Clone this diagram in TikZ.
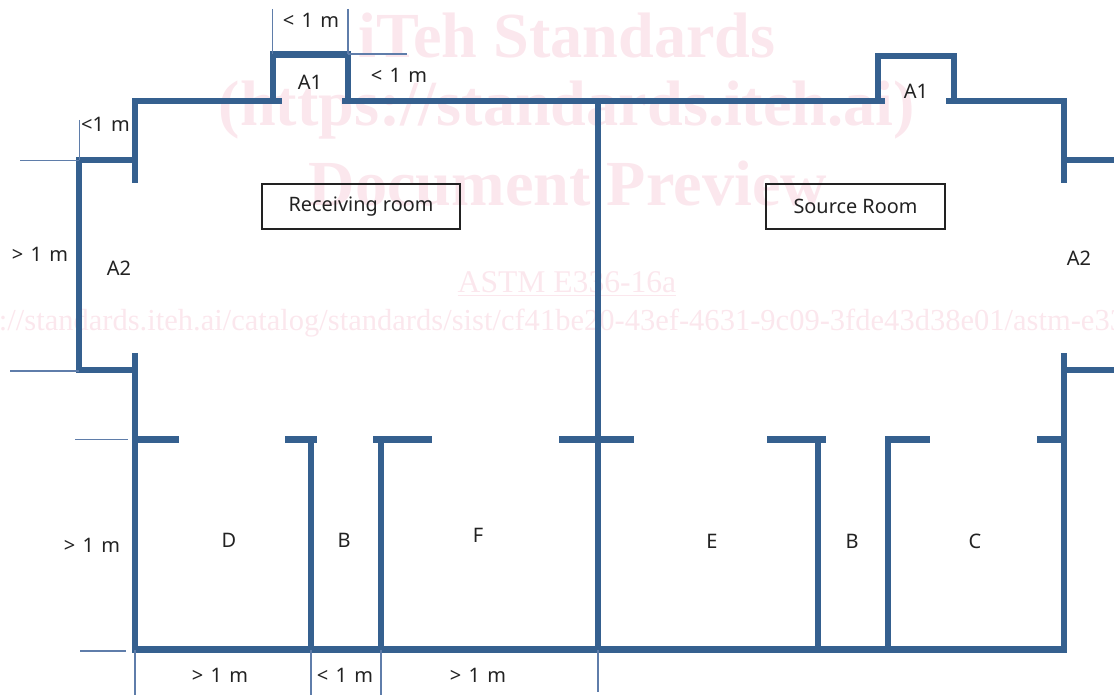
\documentclass[tikz,border=0pt]{standalone}
\usepackage{fontspec}
\setmainfont{Noto Sans}
\newfontfamily\labfont[WordSpace=1.4]{Noto Sans}
\newfontfamily\wmfont{Liberation Serif}
\definecolor{wallc}{HTML}{35608F}
\definecolor{dimc}{HTML}{5F7DAA}
\definecolor{wmc}{HTML}{FBE7ED}
\definecolor{txtc}{HTML}{222222}
\tikzset{
  wall/.style={draw=wallc,line width=4.9pt,line cap=butt,line join=miter},
  dim/.style={draw=dimc,line width=0.8pt},
  lab/.style={text=txtc,font=\labfont\fontsize{15}{17}\selectfont,inner sep=0pt,anchor=center},
  room/.style={draw=txtc,line width=1.2pt,text=txtc,font=\fontsize{14.9}{17}\selectfont,inner sep=0pt,anchor=center},
  wmbig/.style={text=wmc,font=\wmfont\bfseries\fontsize{48.2}{52}\selectfont,inner sep=0pt,anchor=center},
  wmsmall/.style={text=wmc,font=\wmfont\fontsize{23.7}{27}\selectfont,inner sep=0pt,anchor=center},
  wmurl/.style={text=wmc,font=\wmfont\fontsize{22.9}{27}\selectfont,inner sep=0pt,anchor=center}
}
\begin{document}
\begin{tikzpicture}[x=0.75pt,y=-0.75pt]
\useasboundingbox (0,0) rectangle (1114,695);
\begin{scope}
\clip (0,0) rectangle (1114,695);
\node[wmbig] (wm1) at (567,36) {iTeh Standards};
\node[wmbig] (wm2) at (567,110) {(https://standards.iteh.ai)};
\node[wmbig] (wm3) at (568,184) {Document Preview};
\node[wmsmall] (wm4) at (567,284) {\underline{ASTM E336-16a}};
\node[wmurl] (wm5) at (567,323) {https://standards.iteh.ai/catalog/standards/sist/cf41be20-43ef-4631-9c09-3fde43d38e01/astm-e336-16a};
\end{scope}
% walls
\draw[wall] (135,183) -- (135,101) -- (282,101);
\draw[wall] (273,101) -- (273,54.5) -- (348,54.5) -- (348,101);
\draw[wall] (342,101) -- (885,101);
\draw[wall] (878,101) -- (878,56) -- (954,56) -- (954,101);
\draw[wall] (946,101) -- (1064,101) -- (1064,183);
\draw[wall] (135,160) -- (79,160) -- (79,370) -- (135,370);
\draw[wall] (135,353) -- (135,649.5) -- (1064,649.5) -- (1064,353);
\draw[wall] (1064,160) -- (1114,160);
\draw[wall] (1064,370) -- (1114,370);
\draw[wall] (598,101) -- (598,649);
\draw[wall] (311,439.5) -- (311,649);
\draw[wall] (381,439.5) -- (381,649);
\draw[wall] (818,439.5) -- (818,649);
\draw[wall] (888,439.5) -- (888,649);
\draw[wall] (135,439.5) -- (179,439.5);
\draw[wall] (285,439.5) -- (317,439.5);
\draw[wall] (373,439.5) -- (432,439.5);
\draw[wall] (559,439.5) -- (634,439.5);
\draw[wall] (767,439.5) -- (826,439.5);
\draw[wall] (885,439.5) -- (930,439.5);
\draw[wall] (1037,439.5) -- (1064,439.5);
% dimension lines
\draw[dim] (272.7,9) -- (272.7,54);
\draw[dim] (348,9) -- (348,54);
\draw[dim] (348,54) -- (407,54);
\draw[dim] (79.5,120) -- (79.5,160);
\draw[dim] (20,160.5) -- (79,160.5);
\draw[dim] (10,371) -- (79,371);
\draw[dim] (75,439.5) -- (128,439.5);
\draw[dim] (80,651) -- (126,651);
\draw[dim] (135,650) -- (135,695);
\draw[dim] (311,650) -- (311,695);
\draw[dim] (381,650) -- (381,695);
\draw[dim] (598,650) -- (598,692);
% room boxes
\node[room,minimum width=148.5pt,minimum height=33.75pt] (recv) at (361,206.5) {Receiving room};
\node[room,minimum width=134.25pt,minimum height=33.75pt] (src) at (855.5,206.5) {Source Room};
% labels
\node[lab] (l1) at (311,20) {< 1 m};
\node[lab] (l2) at (399,75) {< 1 m};
\node[lab] (l3) at (105.5,124) {<1 m};
\node[lab] (l4) at (40,254) {> 1 m};
\node[lab] (l5) at (92,545) {> 1 m};
\node[lab] (l6) at (220,675) {> 1 m};
\node[lab] (l7) at (345,675) {< 1 m};
\node[lab] (l8) at (478,675) {> 1 m};
\node[lab] (a1l) at (310,82) {A1};
\node[lab] (a1r) at (916,91) {A1};
\node[lab] (a2l) at (119,268) {A2};
\node[lab] (a2r) at (1079,258) {A2};
\node[lab] (d) at (229,540) {D};
\node[lab] (bl) at (344,540) {B};
\node[lab] (f) at (478,535) {F};
\node[lab] (e) at (712,541) {E};
\node[lab] (br) at (852,541) {B};
\node[lab] (c) at (975,541) {C};
\end{tikzpicture}
\end{document}
